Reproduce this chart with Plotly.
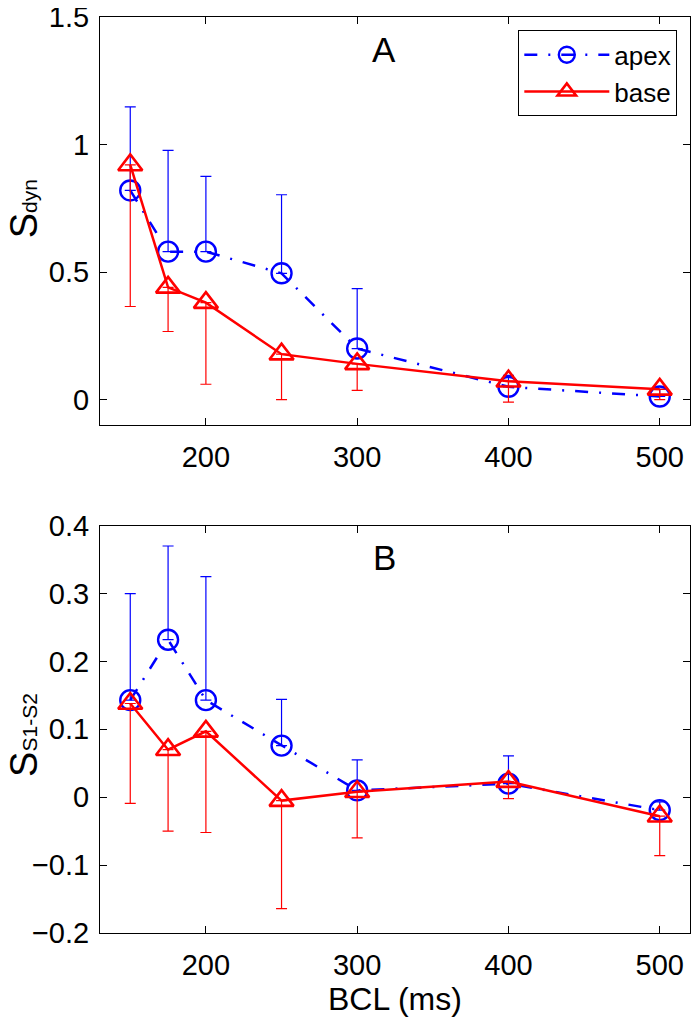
import plotly.graph_objects as go

# ---- data ----
bcl = [150, 175, 200, 250, 300, 400, 500]

# Panel A: S_dyn
apex_A = [0.82, 0.58, 0.58, 0.495, 0.20, 0.05, 0.012]
apex_A_up = [0.328, 0.397, 0.295, 0.308, 0.235, 0.045, 0.028]
base_A = [0.92, 0.44, 0.38, 0.178, 0.14, 0.072, 0.04]
base_A_dn = [0.555, 0.173, 0.32, 0.178, 0.104, 0.082, 0.04]

# Panel B: S_S1-S2
apex_B = [0.143, 0.232, 0.143, 0.076, 0.010, 0.020, -0.019]
apex_B_up = [0.157, 0.138, 0.182, 0.068, 0.045, 0.041, 0.012]
base_B = [0.138, 0.070, 0.097, -0.005, 0.008, 0.023, -0.028]
base_B_dn = [0.147, 0.120, 0.149, 0.159, 0.068, 0.025, 0.058]

yticks_A = [0, 0.5, 1, 1.5]
yticks_B = [-0.2, -0.1, 0, 0.1, 0.2, 0.3, 0.4]
xticks = [200, 300, 400, 500]

BLUE = "rgb(0,0,255)"
RED = "rgb(255,0,0)"
FONT = "Liberation Sans, Arial, Helvetica, sans-serif"
DASHDOT = "13px,11px,2px,11px"

zeros = [0] * len(bcl)

fig = go.Figure()

def add_pair(xa, ya, apex, apex_up, base, base_dn, show):
    fig.add_trace(go.Scatter(
        x=bcl, y=apex, xaxis=xa, yaxis=ya, name="apex", showlegend=show,
        mode="lines+markers",
        line=dict(color=BLUE, width=2.5, dash=DASHDOT),
        marker=dict(symbol="circle-open", size=20, color=BLUE, line=dict(width=2.4, color=BLUE)),
        error_y=dict(type="data", symmetric=False, array=apex_up, arrayminus=zeros,
                     color=BLUE, thickness=1.2, width=5.5),
    ))
    fig.add_trace(go.Scatter(
        x=bcl, y=base, xaxis=xa, yaxis=ya, name="base", showlegend=show,
        mode="lines+markers",
        line=dict(color=RED, width=2.5),
        marker=dict(symbol="triangle-up-open", size=21, color=RED, line=dict(width=2.6, color=RED)),
        error_y=dict(type="data", symmetric=False, array=zeros, arrayminus=base_dn,
                     color=RED, thickness=1.2, width=5.5),
    ))

add_pair("x", "y", apex_A, apex_A_up, base_A, base_A_dn, True)
add_pair("x2", "y2", apex_B, apex_B_up, base_B, base_B_dn, False)

axis_common = dict(
    showline=True, linecolor="black", linewidth=1, mirror="ticks",
    ticks="inside", ticklen=7, tickcolor="black", tickwidth=1,
    showgrid=False, zeroline=False, automargin=False, ticklabeloverflow="allow",
    tickfont=dict(family=FONT, size=29, color="black"),
)

# The page body has an 8 px default margin, so the figure is 8 px smaller
# in each direction and all margins are shifted accordingly.
fig.update_layout(
    width=692, height=1012,
    margin=dict(l=92, r=10, t=8.7, b=86.7),
    paper_bgcolor="white", plot_bgcolor="white",
    font=dict(family=FONT, color="black"),
    xaxis=dict(domain=[0, 1], anchor="y", range=[130, 520], tickvals=xticks,
               ticklabelstandoff=6, **axis_common),
    yaxis=dict(domain=[0.5545, 1], anchor="x", range=[-0.1, 1.5], tickvals=yticks_A,
               ticktext=["0", "0.5", "1", "1.5"], ticklabelstandoff=4, **axis_common),
    xaxis2=dict(domain=[0, 1], anchor="y2", range=[130, 520], tickvals=xticks,
                ticklabelstandoff=6, **axis_common),
    yaxis2=dict(domain=[0, 0.4447], anchor="x2", range=[-0.2, 0.4], tickvals=yticks_B,
                ticktext=["\u22120.2", "\u22120.1", "0", "0.1", "0.2", "0.3", "0.4"],
                ticklabelstandoff=4, **axis_common),
    legend=dict(x=0.9785, y=0.9855, xanchor="right", yanchor="top",
                bordercolor="black", borderwidth=1, bgcolor="white",
                font=dict(family=FONT, size=26, color="black"),
                itemwidth=85, tracegroupgap=0),
    showlegend=True,
)

fig.add_annotation(xref="x", yref="y", x=318, y=1.372, text="A", showarrow=False,
                   font=dict(family=FONT, size=35, color="black"))
fig.add_annotation(xref="x2", yref="y2", x=318, y=0.353, text="B", showarrow=False,
                   font=dict(family=FONT, size=35, color="black"))

# axis titles
fig.add_annotation(xref="paper", yref="paper", x=-0.1288, xanchor="center",
                   y=0.79, yanchor="middle", textangle=-90, showarrow=False,
                   text='S<span style="font-size:21px">dyn</span>',
                   font=dict(family=FONT, size=38, color="black"))
fig.add_annotation(xref="paper", yref="paper", x=-0.1288, xanchor="center",
                   y=0.2163, yanchor="middle", textangle=-90, showarrow=False,
                   text='S<span style="font-size:21px">S1-S2</span>',
                   font=dict(family=FONT, size=38, color="black"))
fig.add_annotation(xref="paper", yref="paper", x=0.5, xanchor="center",
                   y=-0.0717, yanchor="middle", showarrow=False,
                   text="BCL (ms)",
                   font=dict(family=FONT, size=32, color="black"))

fig.write_html("out.html")
